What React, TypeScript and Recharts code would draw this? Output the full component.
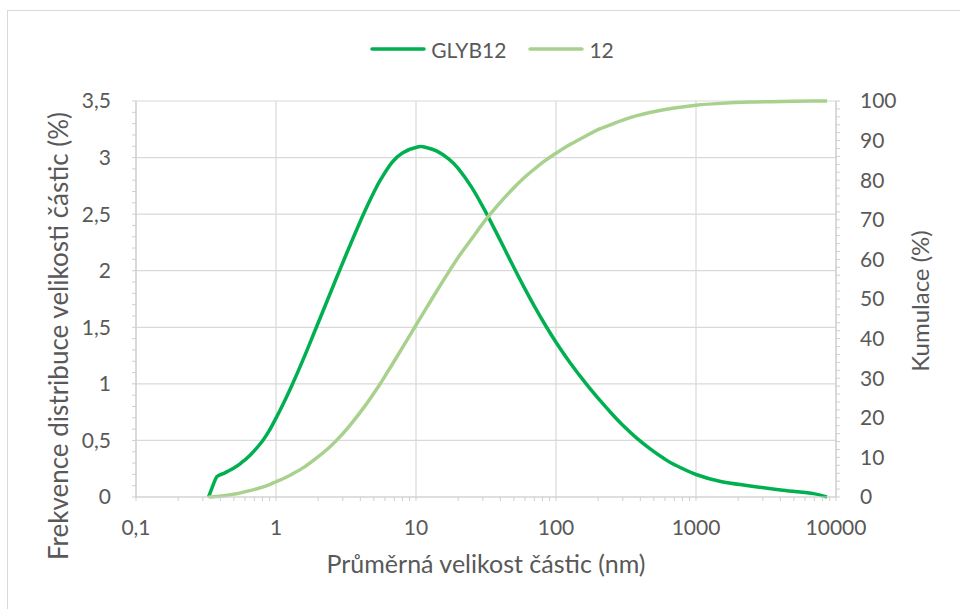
import { LineChart, Line, XAxis, YAxis, CartesianGrid, Legend } from "recharts"

// particle size (nm)
const sizes = [
  0.33, 0.37, 0.39, 0.42, 0.45, 0.5, 0.56, 0.65, 0.79, 0.9, 1, 1.15, 1.3, 1.6, 1.91, 2.4, 2.88, 3.5,
  4.22, 5, 5.6, 6.74, 8, 10.4, 12, 14, 17.1, 20, 25, 31.3, 40, 50, 60, 70, 84, 100, 126, 166, 207,
  258, 300, 379, 468, 587, 700, 1000, 1500, 2440, 4170, 6920, 8630,
]

// GLYB12 - frequency (%)
const frequency = [
  0, 0.16, 0.19, 0.207, 0.226, 0.257, 0.298, 0.367, 0.486, 0.592, 0.697, 0.847, 0.987, 1.245, 1.478,
  1.779, 2.019, 2.269, 2.502, 2.694, 2.807, 2.957, 3.04, 3.095, 3.087, 3.059, 2.989, 2.905, 2.737, 2.525,
  2.268, 2.028, 1.839, 1.687, 1.518, 1.368, 1.187, 0.993, 0.851, 0.718, 0.634, 0.518, 0.428, 0.342,
  0.286, 0.199, 0.137, 0.098, 0.06, 0.03, 0,
]

// 12 - cumulative (%)
const cumulative = [
  0, 0.1, 0.18, 0.3, 0.45, 0.72, 1.05, 1.6, 2.45, 3.15, 3.85, 4.8, 5.75, 7.6, 9.6, 12.5, 15.3, 18.8,
  22.5, 26.2, 28.8, 33.4, 37.7, 44.4, 48.0, 51.9, 56.8, 60.5, 65.2, 69.9, 74.4, 78.1, 80.8, 82.8, 85.0,
  86.8, 89.0, 91.3, 93.0, 94.3, 95.15, 96.3, 97.1, 97.8, 98.25, 98.95, 99.4, 99.72, 99.9, 100, 100,
]

const seriesNames = ["GLYB12", "12"]

const xMajor = [0.1, 1, 10, 100, 1000, 10000]
const leftMajor = [0, 0.5, 1, 1.5, 2, 2.5, 3, 3.5]
const rightMajor = [0, 10, 20, 30, 40, 50, 60, 70, 80, 90, 100]

const xTicks = xMajor.flatMap((d, i) =>
  i === xMajor.length - 1 ? [d] : [1, 2, 3, 4, 5, 6, 7, 8, 9].map((k) => Number((d * k).toPrecision(3)))
)
const leftTicks = Array.from({ length: 36 }, (_, i) => i / 10)
const rightTicks = Array.from({ length: 51 }, (_, i) => i * 2)

const data = sizes.map((s, i) => ({ size: s, freq: frequency[i], cum: cumulative[i] }))

const FONT = "Lato, 'Noto Sans', sans-serif"
const TEXT = "#595959"
const AXIS = "#cfcfcf"
const GRID = "#d9d9d9"

const comma = (v: number) => String(v).replace(".", ",")

const scaleOf = (axis: any, v: number) => {
  const s = axis?.scale
  if (typeof s === "function") return s(v)
  if (s && typeof s.map === "function") return s.map(v)
  return undefined
}

// smooth line through the points, like the spreadsheet "smoothed line" option
const smoothCurve = (context: any) => {
  let pts: number[][] = []
  return {
    areaStart() {},
    areaEnd() {},
    lineStart() {
      pts = []
    },
    point(x: number, y: number) {
      pts.push([+x, +y])
    },
    lineEnd() {
      if (!pts.length) return
      context.moveTo(pts[0][0], pts[0][1])
      for (let i = 0; i < pts.length - 1; i++) {
        const p0 = pts[i - 1] || pts[i]
        const p1 = pts[i]
        const p2 = pts[i + 1]
        const p3 = pts[i + 2] || p2
        context.bezierCurveTo(
          p1[0] + (p2[0] - p0[0]) / 6,
          p1[1] + (p2[1] - p0[1]) / 6,
          p2[0] - (p3[0] - p1[0]) / 6,
          p2[1] - (p3[1] - p1[1]) / 6,
          p2[0],
          p2[1]
        )
      }
    },
  }
}

function LegendBox({ payload }: any) {
  const items = [...(payload || [])].sort(
    (a: any, b: any) => seriesNames.indexOf(a.value) - seriesNames.indexOf(b.value)
  )
  return (
    <div
      style={{
        display: "flex",
        justifyContent: "center",
        alignItems: "center",
        paddingLeft: 24,
        height: 26,
        fontFamily: FONT,
        fontSize: 21,
        color: TEXT,
      }}
    >
      {items.map((p: any, i: number) => (
        <span key={i} style={{ display: "flex", alignItems: "center", marginRight: i === 0 ? 22 : 0 }}>
          <svg width={56} height={8} style={{ marginRight: 5 }}>
            <line x1={2} y1={4} x2={54} y2={4} stroke={p.color} strokeWidth={3.5} strokeLinecap="round" />
          </svg>
          <span>{p.value}</span>
        </span>
      ))}
    </div>
  )
}

export default function App() {
  return (
    <div style={{ position: "fixed", left: 0, top: 0, width: 960, height: 609, overflow: "hidden", background: "#fff" }}>
      <div
        style={{
          position: "absolute",
          left: 7,
          top: 10,
          width: 1000,
          height: 700,
          border: "1px solid #d9d9d9",
        }}
      />
      <div style={{ position: "absolute", left: 0, top: 0 }}>
        <LineChart width={960} height={609} data={data} margin={{ top: 75, right: 44, bottom: 32, left: 56 }}>
          <CartesianGrid
            xAxisId="x"
            yAxisId="left"
            stroke={GRID}
            strokeWidth={1.2}
            verticalCoordinatesGenerator={({ xAxis }: any) => xMajor.map((v) => scaleOf(xAxis, v)).filter((v) => v != null)}
            horizontalCoordinatesGenerator={({ yAxis }: any) =>
              leftMajor.map((v) => scaleOf(yAxis, v)).filter((v) => v != null)
            }
          />
          <XAxis
            xAxisId="x"
            dataKey="size"
            type="number"
            scale="log"
            domain={[0.1, 10000]}
            allowDataOverflow
            ticks={xTicks}
            interval={0}
            tickFormatter={(v: number) => (xMajor.includes(v) ? comma(v) : "")}
            tick={{ fill: TEXT, fontSize: 21, fontFamily: FONT }}
            tickLine={{ stroke: AXIS }}
            axisLine={{ stroke: AXIS, strokeWidth: 1.2 }}
            tickSize={4}
            tickMargin={19}
            height={80}
            label={{
              value: "Průměrná velikost částic (nm)",
              position: "insideBottom",
              offset: 4,
              fill: TEXT,
              fontSize: 25,
              fontFamily: FONT,
            }}
          />
          <YAxis
            yAxisId="left"
            orientation="left"
            type="number"
            domain={[0, 3.5]}
            ticks={leftTicks}
            interval={0}
            tickFormatter={(v: number) => (leftMajor.includes(v) ? comma(v) : "")}
            tick={{ fill: TEXT, fontSize: 21, fontFamily: FONT }}
            tickLine={{ stroke: AXIS }}
            axisLine={{ stroke: AXIS, strokeWidth: 1.2 }}
            tickSize={4}
            tickMargin={21}
            width={80}
            label={{
              value: "Frekvence distribuce velikosti částic (%)",
              angle: -90,
              position: "insideLeft",
              offset: 3,
              dy: 37,
              style: { textAnchor: "middle" },
              fill: TEXT,
              fontSize: 26,
              fontFamily: FONT,
            }}
          />
          <YAxis
            yAxisId="right"
            orientation="right"
            type="number"
            domain={[0, 100]}
            ticks={rightTicks}
            interval={0}
            tickFormatter={(v: number) => (rightMajor.includes(v) ? String(v) : "")}
            tick={{ fill: TEXT, fontSize: 21, fontFamily: FONT }}
            tickLine={{ stroke: AXIS }}
            axisLine={{ stroke: AXIS, strokeWidth: 1.2 }}
            tickSize={4}
            tickMargin={20}
            width={80}
            label={{
              value: "Kumulace (%)",
              angle: -90,
              position: "insideRight",
              offset: -4,
              dy: 2,
              style: { textAnchor: "middle" },
              fill: TEXT,
              fontSize: 24,
              fontFamily: FONT,
            }}
          />
          <Legend
            verticalAlign="top"
            align="center"
            itemSorter={(item: any) => seriesNames.indexOf(item.value)}
            wrapperStyle={{ top: 36, left: 0, width: 960, height: 26 }}
            content={<LegendBox />}
          />
          <Line
            xAxisId="x"
            yAxisId="left"
            dataKey="freq"
            name="GLYB12"
            type={smoothCurve as any}
            stroke="#00b050"
            strokeWidth={3.5}
            dot={false}
            activeDot={false}
            isAnimationActive={false}
          />
          <Line
            xAxisId="x"
            yAxisId="right"
            dataKey="cum"
            name="12"
            type={smoothCurve as any}
            stroke="#a9d18e"
            strokeWidth={3.5}
            dot={false}
            activeDot={false}
            isAnimationActive={false}
          />
        </LineChart>
      </div>
    </div>
  )
}
